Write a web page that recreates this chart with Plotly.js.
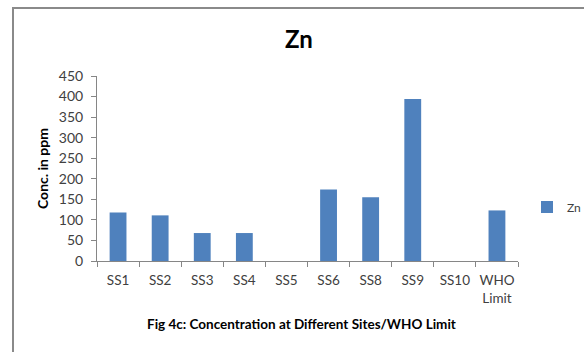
<!DOCTYPE html>
<html>
<head>
<meta charset="utf-8">
<script src="https://cdn.plot.ly/plotly-3.0.1.min.js"></script>
<style>
html,body{margin:0;padding:0;background:#fff;overflow:hidden;}
#wrap{position:relative;width:584px;height:352px;}
#chart{width:584px;height:352px;}
.bl{position:absolute;background:#8a8a8a;}
</style>
</head>
<body>
<div id="wrap">
<div id="chart"></div>
<div class="bl" style="left:12px;top:7px;width:572px;height:2px;"></div>
<div class="bl" style="left:12px;top:7px;width:2px;height:345px;"></div>
</div>
<script>
const categories = ["SS1","SS2","SS3","SS4","SS5","SS6","SS8","SS9","SS10","WHO<br>Limit"];
const znValues = [118, 111, 68, 68, 0, 174, 155, 394, 0, 123];
const yTicks = [0,50,100,150,200,250,300,350,400,450];

const L = 97, R = 518, T = 76, B = 261;
const W = 584, H = 352;
const px = x => (x - L) / (R - L);
const py = y => (B - y) / (B - T);

const trace = {
  type: "bar",
  x: categories,
  y: znValues,
  name: "Zn",
  marker: {color: "#4f81bd"},
  width: 0.4
};

const layout = {
  width: W, height: H,
  margin: {l: L, r: W - R, t: T, b: H - B},
  paper_bgcolor: "rgba(0,0,0,0)",
  plot_bgcolor: "rgba(0,0,0,0)",
  font: {family: "Lato, 'Open Sans', sans-serif", color: "#404040"},
  title: {text: "<b>Zn</b>", font: {size: 24, color: "#000", family: "Lato, sans-serif"}, x: px(299), xref: "paper", xanchor: "center", y: 1 - 40/H, yanchor: "middle"},
  xaxis: {
    type: "category",
    showline: true, linecolor: "#868686", linewidth: 1,
    ticks: "outside", tickson: "boundaries", ticklen: 5, tickcolor: "#868686",
    tickangle: 0, ticklabelstandoff: 7,
    tickfont: {size: 13.5, color: "#404040"},
    showgrid: false, zeroline: false
  },
  yaxis: {
    range: [0, 450],
    tickvals: yTicks,
    showline: true, linecolor: "#868686", linewidth: 1,
    ticks: "outside", ticklen: 5, tickcolor: "#868686",
    ticklabelstandoff: 5,
    tickfont: {size: 14, color: "#404040"},
    showgrid: false, zeroline: false,
    title: {text: "<b>Conc. in ppm</b>", font: {size: 14, color: "#000"}, standoff: 6}
  },
  showlegend: true,
  legend: {xref: "container", yref: "container", x: 527 / W, y: 1 - 207 / H, xanchor: "left", yanchor: "middle", font: {size: 12, color: "#404040"}, itemwidth: 30, bgcolor: "rgba(0,0,0,0)"},
  annotations: [{
    text: "<b>Fig 4c: Concentration at Different Sites/WHO Limit</b>",
    xref: "paper", yref: "paper", x: px(301), y: py(324), xanchor: "center", yanchor: "middle",
    showarrow: false, font: {size: 13.5, color: "#000"}
  }]
};

Plotly.newPlot("chart", [trace], layout, {displayModeBar: false, staticPlot: true});
</script>
</body>
</html>
